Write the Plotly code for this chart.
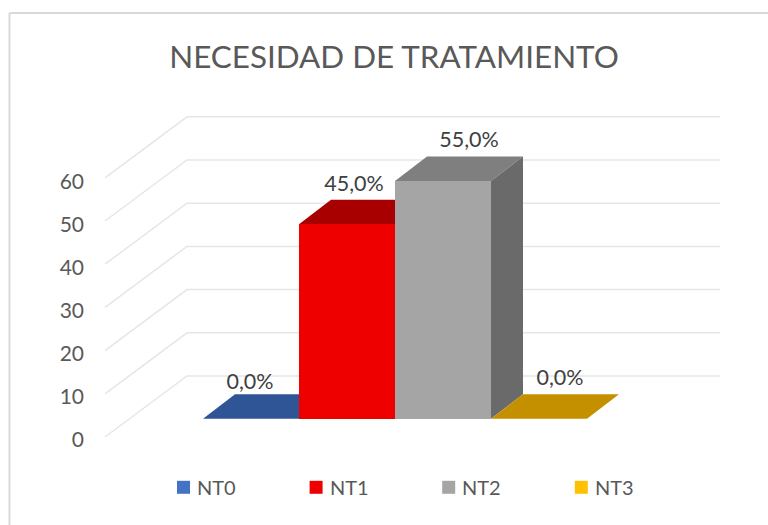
import plotly.graph_objects as go

categories = ["NT0", "NT1", "NT2", "NT3"]
values = [0, 45, 55, 0]
value_labels = ["0,0%", "45,0%", "55,0%", "0,0%"]
front_colors = ["#4472C4", "#EE0000", "#A5A5A5", "#FFC000"]
top_colors = ["#2F5597", "#A80000", "#7F7F7F", "#C49000"]
side_colors = ["#264478", "#8C0000", "#6A6A6A", "#A67C00"]
tick_values = [0, 10, 20, 30, 40, 50, 60]

W, H = 768, 525
GREY = "#595959"
FONT = "Lato"

# bar plane, in pixels: where category 0 starts and where value 0 sits
BAR_LEFT = 203
BAR_W = 96
BASE_Y = 418.7
PX_PER_UNIT = 4.32
DEPTH_X = 32 / BAR_W
DEPTH_Y = 24.5 / PX_PER_UNIT

x_range = [-0.5 - BAR_LEFT / BAR_W, -0.5 + (W - BAR_LEFT) / BAR_W]
y_range = [(BASE_Y - H) / PX_PER_UNIT, BASE_Y / PX_PER_UNIT]


def px_x(px):
    return -0.5 + (px - BAR_LEFT) / BAR_W


def px_y(px):
    return (BASE_Y - px) / PX_PER_UNIT


fig = go.Figure()

# walls: each gridline runs along the left wall then the back wall
WALL_FRONT_X, WALL_BACK_X, WALL_RIGHT_X = 105, 187, 720
WALL_FRONT_Y0, WALL_BACK_Y0 = 437, 376
for v in tick_values:
    fig.add_trace(go.Scatter(
        x=[px_x(WALL_FRONT_X), px_x(WALL_BACK_X), px_x(WALL_RIGHT_X)],
        y=[px_y(WALL_FRONT_Y0) + v, px_y(WALL_BACK_Y0) + v, px_y(WALL_BACK_Y0) + v],
        mode="lines", line={"color": "#E6E6E6", "width": 1.5},
        hoverinfo="skip", showlegend=False,
    ))

# depth faces of each bar
for i, v in enumerate(values):
    left, right = i - 0.5, i + 0.5
    fig.add_trace(go.Scatter(
        x=[left, right, right + DEPTH_X, left + DEPTH_X, left],
        y=[v, v, v + DEPTH_Y, v + DEPTH_Y, v],
        mode="lines", fill="toself", fillcolor=top_colors[i], line={"width": 0},
        hoverinfo="skip", showlegend=False,
    ))
    if v > 0:
        fig.add_trace(go.Scatter(
            x=[right, right + DEPTH_X, right + DEPTH_X, right, right],
            y=[v, v + DEPTH_Y, DEPTH_Y, 0, v],
            mode="lines", fill="toself", fillcolor=side_colors[i], line={"width": 0},
            hoverinfo="skip", showlegend=False,
        ))

# fronts go on an overlaid subplot so they cover the depth faces
fig.add_trace(go.Bar(
    x=list(range(len(categories))), y=values, width=1,
    marker={"color": front_colors, "line": {"width": 0}},
    xaxis="x2", yaxis="y2", showlegend=False,
    hovertext=categories, hoverinfo="text+y",
))

# value labels, offset in pixels from the bar centre and top
label_dx = [-1, 7, 26, 21]
label_dy = [35.5, 38.5, 39.7, 38.7]
fig.add_trace(go.Scatter(
    x=[i + dx / BAR_W for i, dx in enumerate(label_dx)],
    y=[v + dy / PX_PER_UNIT for v, dy in zip(values, label_dy)],
    mode="text", text=value_labels, textposition="middle center",
    textfont={"family": FONT, "size": 21.5, "color": "#404040"},
    xaxis="x2", yaxis="y2", hoverinfo="skip", showlegend=False,
))

# carrier for the value axis labels
fig.add_trace(go.Scatter(x=[None], y=[None], xaxis="x2", yaxis="y3", showlegend=False))

fig.update_layout(
    width=W, height=H,
    margin={"l": 0, "r": 0, "t": 0, "b": 0},
    autosize=False,
    paper_bgcolor="white", plot_bgcolor="rgba(0,0,0,0)",
    showlegend=False,
    bargap=0,
    xaxis={"range": x_range, "visible": False, "domain": [0, 1]},
    yaxis={"range": y_range, "visible": False, "domain": [0, 1]},
    xaxis2={"range": x_range, "visible": False, "overlaying": "x", "anchor": "y2"},
    yaxis2={"range": y_range, "visible": False, "overlaying": "y", "anchor": "x2"},
    yaxis3={
        # labels sit a little below the left ends of the gridlines
        "range": [(439.5 - H) / 4.29, 439.5 / 4.29],
        "overlaying": "y", "anchor": "free", "position": 84 / W,
        "tickvals": tick_values, "ticks": "", "showgrid": False, "zeroline": False,
        "showline": False, "tickfont": {"family": FONT, "size": 21, "color": GREY},
    },
    title={
        "text": "NECESIDAD DE TRATAMIENTO",
        "x": 394 / W, "xanchor": "center", "y": 1 - 57 / H, "yanchor": "middle",
        "font": {"family": FONT, "size": 31.4, "color": GREY},
    },
)

# chart frame: only the top and left edges show in the crop
FRAME_LEFT, FRAME_TOP = 9.5, 13
fig.add_shape(type="line", xref="paper", yref="paper",
              x0=FRAME_LEFT / W, x1=1, y0=1 - FRAME_TOP / H, y1=1 - FRAME_TOP / H,
              line={"color": "#D9D9D9", "width": 2}, layer="below")
fig.add_shape(type="line", xref="paper", yref="paper",
              x0=FRAME_LEFT / W, x1=FRAME_LEFT / W, y0=0, y1=1 - FRAME_TOP / H,
              line={"color": "#D9D9D9", "width": 2}, layer="below")

# hand-placed legend, the swatch-to-text gap is tighter than a plotly legend allows
LEGEND_X0, LEGEND_STEP, LEGEND_Y = 177, 132.6, 487.3
for i, name in enumerate(categories):
    sx = LEGEND_X0 + i * LEGEND_STEP
    fig.add_shape(type="rect", xref="paper", yref="paper",
                  x0=sx / W, x1=(sx + 13) / W,
                  y0=1 - (LEGEND_Y + 6.5) / H, y1=1 - (LEGEND_Y - 6.5) / H,
                  fillcolor=front_colors[i], line={"width": 0})
    fig.add_annotation(text=name, xref="paper", yref="paper", showarrow=False,
                       x=(sx + 18) / W, y=1 - LEGEND_Y / H, xanchor="left", yanchor="middle",
                       font={"family": FONT, "size": 20, "color": GREY})

# the page's default body margin would push the figure off its 768x525 canvas
fig.write_html("out.html", config={"displayModeBar": False},
               post_script="document.body.style.margin = '0';")
